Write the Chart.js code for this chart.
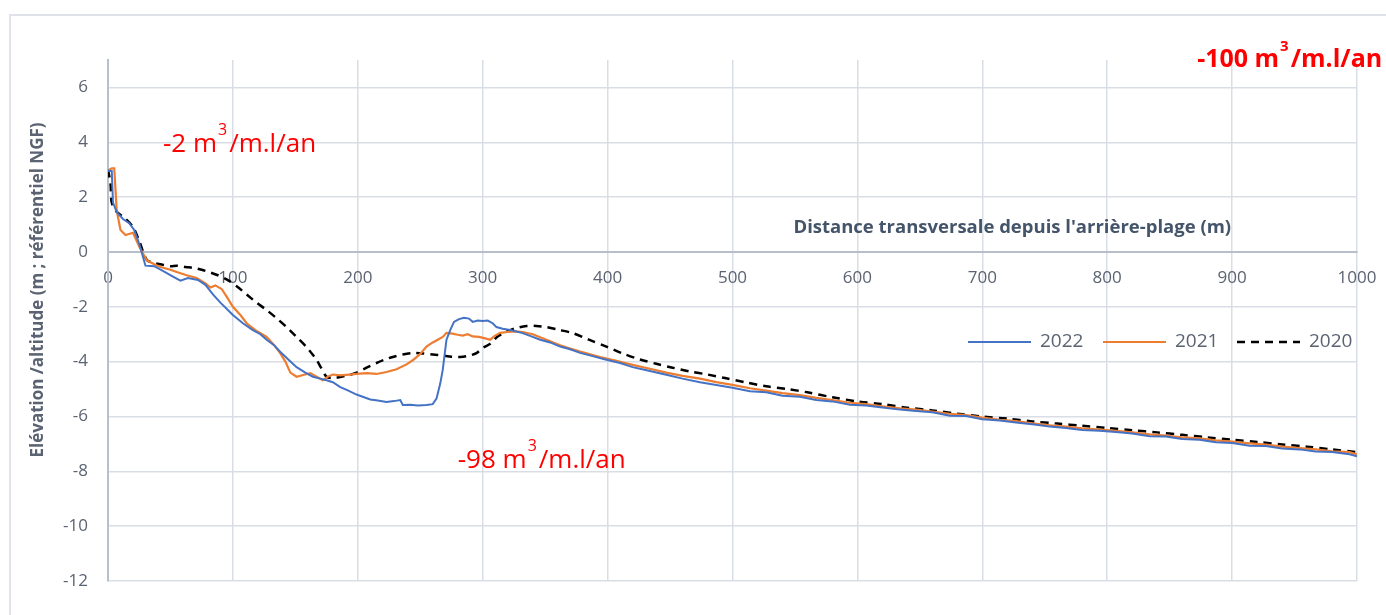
<!DOCTYPE html>
<html>
<head>
<meta charset="utf-8">
<script src="https://cdn.jsdelivr.net/npm/chart.js@4.4.0/dist/chart.umd.min.js"></script>
<style>
  html, body { margin: 0; padding: 0; background: #fff; }
  #wrap { width: 1386px; height: 615px; position: relative; }
</style>
</head>
<body>
<div id="wrap"><canvas id="profil"></canvas></div>
<script>
// profil 2022
const dist2022 = [0, 3, 4, 7, 12, 17, 21, 25, 30, 37, 45, 52, 58, 64, 72, 78, 84, 90, 100, 108,
  116, 122, 127, 133, 138, 145, 151, 158, 164, 170, 175, 180, 186, 192, 199, 205, 210, 216, 223, 229,
  234, 236, 242, 248, 255, 260, 263, 266, 268, 271, 274, 277, 281, 285, 289, 292, 296, 300, 304, 308,
  311, 316, 322, 327, 332, 339, 346, 354, 362, 370, 378, 388, 399, 410, 420, 433, 447, 460, 474, 487,
  500, 514, 527, 540, 554, 567, 580, 594, 607, 620, 634, 647, 660, 674, 687, 700, 714, 727, 740, 754,
  767, 780, 794, 807, 820, 834, 847, 860, 874, 887, 900, 914, 927, 940, 954, 967, 980, 994, 1000];
const elev2022 = [2.95, 2.95, 1.8, 1.45, 1.2, 1.05, 0.8, 0.3, -0.5, -0.52, -0.72, -0.9, -1.05, -0.95, -1.02, -1.2, -1.55, -1.85, -2.3, -2.6,
  -2.85, -3.0, -3.2, -3.4, -3.65, -3.95, -4.2, -4.4, -4.55, -4.62, -4.68, -4.75, -4.93, -5.05, -5.2, -5.3, -5.38, -5.42, -5.47, -5.44,
  -5.4, -5.58, -5.57, -5.6, -5.58, -5.55, -5.35, -4.8, -4.3, -3.2, -2.85, -2.55, -2.45, -2.4, -2.43, -2.55, -2.5, -2.52, -2.5, -2.6,
  -2.74, -2.8, -2.85, -2.9, -2.96, -3.08, -3.2, -3.3, -3.45, -3.55, -3.68, -3.8, -3.93, -4.05, -4.2, -4.33, -4.48, -4.62, -4.75, -4.85,
  -4.95, -5.08, -5.12, -5.24, -5.28, -5.4, -5.45, -5.57, -5.6, -5.67, -5.75, -5.8, -5.85, -5.97, -5.98, -6.1, -6.15, -6.22, -6.28, -6.37,
  -6.42, -6.49, -6.52, -6.57, -6.62, -6.72, -6.73, -6.82, -6.85, -6.94, -6.97, -7.07, -7.08, -7.17, -7.2, -7.28, -7.3, -7.38, -7.45];

// profil 2021
const dist2021 = [1, 3, 5, 7, 10, 14, 20, 25, 31, 37, 42, 50, 55, 63, 71, 78, 82, 86, 91, 96,
  100, 106, 111, 118, 127, 133, 138, 142, 146, 151, 157, 162, 167, 172, 176, 180, 186, 191, 199, 207,
  215, 223, 231, 239, 244, 250, 255, 260, 264, 268, 271, 276, 280, 284, 288, 292, 297, 302, 306, 310,
  314, 320, 326, 332, 340, 348, 355, 362, 370, 378, 386, 394, 407, 420, 433, 447, 460, 474, 487, 500,
  514, 527, 540, 554, 567, 580, 594, 607, 620, 634, 647, 660, 674, 687, 700, 714, 727, 740, 754, 767,
  780, 794, 807, 820, 834, 847, 860, 874, 887, 900, 914, 927, 940, 954, 967, 980, 994, 1000];
const elev2021 = [3.0, 3.05, 3.05, 1.5, 0.8, 0.62, 0.7, 0.2, -0.3, -0.45, -0.55, -0.65, -0.73, -0.85, -0.95, -1.15, -1.3, -1.22, -1.35, -1.7,
  -2.0, -2.3, -2.6, -2.85, -3.1, -3.4, -3.7, -4.0, -4.4, -4.55, -4.48, -4.42, -4.55, -4.68, -4.55, -4.47, -4.5, -4.48, -4.45, -4.42,
  -4.45, -4.38, -4.28, -4.1, -3.95, -3.72, -3.45, -3.3, -3.2, -3.1, -2.95, -2.98, -3.02, -3.05, -3.0, -3.08, -3.1, -3.15, -3.2, -3.05,
  -2.95, -2.92, -2.9, -2.92, -3.0, -3.15, -3.28, -3.4, -3.52, -3.63, -3.73, -3.83, -3.97, -4.12, -4.25, -4.4, -4.52, -4.62, -4.75, -4.85,
  -4.97, -5.06, -5.15, -5.22, -5.32, -5.4, -5.5, -5.55, -5.63, -5.7, -5.75, -5.82, -5.9, -5.95, -6.04, -6.12, -6.17, -6.25, -6.32, -6.37,
  -6.43, -6.48, -6.52, -6.58, -6.65, -6.7, -6.76, -6.8, -6.87, -6.92, -6.98, -7.03, -7.1, -7.15, -7.2, -7.27, -7.3, -7.38];

// profil 2020
const dist2020 = [0, 2, 3, 7, 13, 20, 25, 31, 37, 42, 50, 55, 62, 68, 75, 82, 88, 95, 103, 111,
  119, 127, 135, 143, 151, 159, 164, 167, 171, 175, 180, 186, 192, 199, 207, 215, 222, 228, 236, 244,
  252, 260, 268, 275, 282, 289, 295, 300, 306, 311, 316, 322, 328, 335, 343, 351, 361, 372, 385, 399,
  412, 426, 439, 452, 466, 480, 494, 511, 527, 544, 560, 580, 600, 620, 640, 660, 680, 700, 720, 740,
  760, 780, 800, 820, 840, 860, 880, 900, 920, 940, 960, 980, 1000];
const elev2020 = [3.0, 2.5, 1.8, 1.46, 1.25, 0.91, 0.4, -0.29, -0.4, -0.45, -0.52, -0.5, -0.55, -0.58, -0.65, -0.75, -0.85, -1.0, -1.25, -1.55,
  -1.85, -2.12, -2.42, -2.74, -3.1, -3.47, -3.75, -3.94, -4.25, -4.55, -4.6, -4.56, -4.5, -4.4, -4.22, -4.05, -3.92, -3.83, -3.74, -3.69,
  -3.7, -3.74, -3.78, -3.82, -3.83, -3.78, -3.69, -3.5, -3.35, -3.12, -2.98, -2.85, -2.76, -2.7, -2.7, -2.74, -2.84, -2.96, -3.2, -3.45,
  -3.7, -3.92, -4.08, -4.22, -4.36, -4.47, -4.6, -4.76, -4.9, -5.0, -5.12, -5.3, -5.45, -5.55, -5.68, -5.78, -5.9, -6.0, -6.08, -6.18,
  -6.26, -6.34, -6.42, -6.5, -6.58, -6.67, -6.76, -6.85, -6.93, -7.02, -7.1, -7.2, -7.3];

const seriesNames = ['2022', '2021', '2020'];
const xTitle = "Distance transversale depuis l'arrière-plage (m)";
const yTitle = 'Elévation /altitude (m ; référentiel NGF)';
// bilans sédimentaires : [valeur, x, y, gras]
const bilans = [
  ['-2', 44, 3.9, false],
  ['-98', 280, -7.6, false],
  ['-100', 872, 7.0, true]
];

const FONT = "'Open Sans', sans-serif";
const tickColor = '#5b6372';
const gridColor = '#d9dde5';
const axisColor = '#b7bfcc';

function pts(xs, ys) {
  return xs.map((x, i) => ({ x: x, y: ys[i] }));
}

function drawBilan(ctx, x, y, val, bold) {
  const w = bold ? 'bold ' : '';
  const size = bold ? 25 : 26;
  ctx.fillStyle = '#ff0000';
  ctx.textBaseline = 'middle';
  ctx.textAlign = 'left';
  ctx.font = w + size + 'px ' + FONT;
  const a = val + ' m';
  ctx.fillText(a, x, y);
  let cx = x + ctx.measureText(a).width + 1;
  ctx.font = w + Math.round(size * 0.6) + 'px ' + FONT;
  ctx.fillText('3', cx, y - size * 0.55);
  cx += ctx.measureText('3').width + 2;
  ctx.font = w + size + 'px ' + FONT;
  ctx.fillText('/m.l/an', cx, y);
}

const decor = {
  id: 'decor',
  beforeDraw(chart) {
    const ctx = chart.ctx;
    ctx.save();
    ctx.strokeStyle = '#dfe2e8';
    ctx.lineWidth = 2;
    ctx.strokeRect(10, 15, 1400, 640);
    ctx.restore();
  },
  afterDraw(chart) {
    const ctx = chart.ctx;
    const xs = chart.scales.x, ys = chart.scales.y;
    ctx.save();
    // titre axe x
    ctx.fillStyle = '#44546a';
    ctx.font = 'bold 18.5px ' + FONT;
    ctx.textAlign = 'center';
    ctx.textBaseline = 'middle';
    ctx.fillText(xTitle, xs.getPixelForValue(724), ys.getPixelForValue(0.88));
    // titre axe y
    ctx.save();
    ctx.translate(38, 290);
    ctx.rotate(-Math.PI / 2);
    ctx.fillStyle = '#5b6372';
    ctx.font = 'bold 17px ' + FONT;
    ctx.fillText(yTitle, 0, 0);
    ctx.restore();
    // bilans
    bilans.forEach(b => drawBilan(ctx, xs.getPixelForValue(b[1]), ys.getPixelForValue(b[2]), b[0], b[3]));
    // legende
    const items = [[968, 1040], [1103, 1175], [1237, 1309]];
    chart.data.datasets.forEach((ds, i) => {
      const ly = 342;
      ctx.strokeStyle = ds.borderColor;
      ctx.lineWidth = ds.borderWidth;
      ctx.setLineDash(ds.borderDash || []);
      ctx.beginPath();
      ctx.moveTo(items[i][0], ly);
      ctx.lineTo(items[i][0] + 63, ly);
      ctx.stroke();
      ctx.setLineDash([]);
      ctx.fillStyle = tickColor;
      ctx.font = '19px ' + FONT;
      ctx.textAlign = 'left';
      ctx.fillText(ds.label, items[i][1], ly);
    });
    ctx.restore();
  }
};

new Chart(document.getElementById('profil'), {
  type: 'line',
  data: {
    datasets: [
      { label: seriesNames[0], data: pts(dist2022, elev2022), borderColor: '#4472c4', borderWidth: 2, pointRadius: 0, tension: 0 },
      { label: seriesNames[1], data: pts(dist2021, elev2021), borderColor: '#ed7d31', borderWidth: 2.2, pointRadius: 0, tension: 0 },
      { label: seriesNames[2], data: pts(dist2020, elev2020), borderColor: '#000000', borderWidth: 2.5, borderDash: [8, 6], pointRadius: 0, tension: 0.3 }
    ]
  },
  options: {
    responsive: true,
    maintainAspectRatio: false,
    animation: false,
    layout: { padding: { left: 0, right: 29, top: 60, bottom: 34 } },
    plugins: { legend: { display: false }, tooltip: { enabled: false } },
    scales: {
      x: {
        type: 'linear',
        min: 0,
        max: 1000,
        position: { y: 0 },
        ticks: { stepSize: 100, color: tickColor, font: { family: FONT, size: 17 }, padding: 16, maxRotation: 0, autoSkip: false,
          callback: v => String(v) },
        afterFit: s => { s.paddingRight = 0; s.paddingLeft = 0; },
        grid: { color: gridColor, lineWidth: 1.5, drawTicks: false },
        border: { color: axisColor, width: 2 }
      },
      y: {
        min: -12,
        max: 7,
        ticks: { stepSize: 2, color: tickColor, font: { family: FONT, size: 17 }, padding: 20 },
        afterBuildTicks: s => { s.ticks = s.ticks.filter(t => t.value !== 7); },
        afterFit: s => { s.width = 108; },
        grid: { color: gridColor, lineWidth: 1.5, drawTicks: false },
        border: { color: axisColor, width: 2 }
      }
    }
  },
  plugins: [decor]
});
</script>
</body>
</html>
